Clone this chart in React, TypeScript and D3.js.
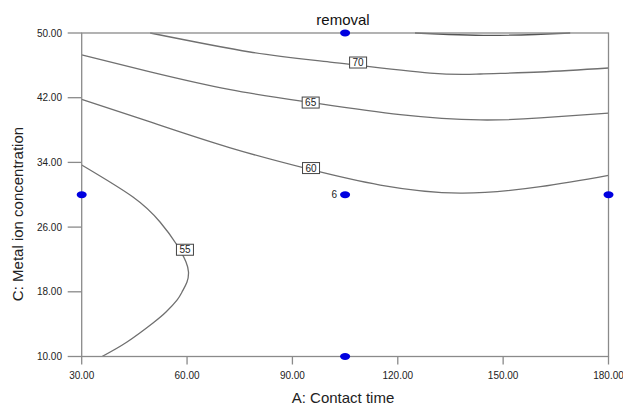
import React from 'react'
import * as d3 from 'd3'

// axis ticks
const xTicks = [30, 60, 90, 120, 150, 180]
const yTicks = [10, 18, 26, 34, 42, 50]

// contour lines: [A: contact time, C: metal ion conc.]
const contour55: [number, number][] = [
  [30, 33.68], [44.6, 29.72], [52.3, 26.63], [57.13, 23.79], [59.7, 21.68], [60.41, 20.45],
  [59.98, 19.21], [58.56, 17.98], [57.13, 16.97], [54.0, 15.5], [50.3, 14.14], [42.9, 11.79],
  [35.78, 10],
]
const contour60: [number, number][] = [
  [30, 41.8], [49.5, 39.0], [72.3, 35.8], [95.3, 33.1], [115, 31.2], [137.8, 30.2],
  [160.6, 31.0], [180, 32.4],
]
const contour65: [number, number][] = [
  [30, 47.3], [49.5, 45.2], [72.3, 43.0], [95.3, 41.4], [120.7, 39.9], [143.5, 39.25],
  [160.6, 39.5], [180, 40.1],
]
const contour70: [number, number][] = [
  [49.5, 50], [77.9, 47.65], [100.7, 46.4], [129.2, 45.05], [143.5, 44.93],
  [160.6, 45.18], [180, 45.67],
]
const contour75: [number, number][] = [
  [124.9, 50], [146.3, 49.7], [169.1, 50],
]

const contours = [
  { level: 55, points: contour55, label: [59.4, 23.2] },
  { level: 60, points: contour60, label: [95.3, 33.3] },
  { level: 65, points: contour65, label: [95.2, 41.4] },
  { level: 70, points: contour70, label: [108.7, 46.35] },
  { level: 75, points: contour75, label: null },
]

// design points
const designPoints: [number, number][] = [
  [30, 30], [105, 30], [180, 30], [105, 50], [105, 10],
]
const centerReplicates = '6'

export default function App() {
  const width = 623
  const height = 407
  const x = d3.scaleLinear().domain([30, 180]).range([81.7, 608.5])
  const y = d3.scaleLinear().domain([10, 50]).range([356.5, 33])

  const line = d3.line<[number, number]>()
    .x(d => x(d[0]))
    .y(d => y(d[1]))
    .curve(d3.curveNatural)

  const font = 'Arial, "Liberation Sans", sans-serif'
  const axisColor = '#8a8a8a'

  return (
    <div style={{ position: 'absolute', left: 0, top: 0 }}>
      <svg width={width} height={height} style={{ display: 'block', background: '#fff' }}>
        <defs>
          <clipPath id='plot'>
            <rect x={x(30)} y={y(50) - 1} width={x(180) - x(30)} height={y(10) - y(50) + 1} />
          </clipPath>
        </defs>
        {/* contour lines */}
        <g clipPath='url(#plot)'>
          {contours.map(c => (
            <path key={c.level} d={line(c.points) || ''} fill='none'
              stroke={c.level === 75 ? '#555' : '#707070'} strokeWidth={1.3} />
          ))}
        </g>
        {/* frame */}
        <rect x={x(30)} y={y(50)} width={x(180) - x(30)} height={y(10) - y(50)}
          fill='none' stroke={axisColor} strokeWidth={1.3} />
        {/* y axis */}
        {yTicks.map(t => (
          <g key={'y' + t}>
            <line x1={x(30) - 14} x2={x(30)} y1={y(t)} y2={y(t)} stroke={axisColor} strokeWidth={1.3} />
            <text x={62} y={y(t) + 3.5} textAnchor='end' fontSize={10} fontFamily={font} fill='#222'>
              {t.toFixed(2)}
            </text>
          </g>
        ))}
        {/* x axis */}
        {xTicks.map(t => (
          <g key={'x' + t}>
            <line x1={x(t)} x2={x(t)} y1={y(10)} y2={y(10) + 8} stroke={axisColor} strokeWidth={1.3} />
            <text x={x(t)} y={379} textAnchor='middle' fontSize={10} fontFamily={font} fill='#222'>
              {t.toFixed(2)}
            </text>
          </g>
        ))}
        {/* contour labels */}
        {contours.filter(c => c.label).map(c => {
          const lx = x(c.label![0])
          const ly = y(c.label![1])
          return (
            <g key={'l' + c.level}>
              <rect x={lx - 8.5} y={ly - 5.5} width={17} height={11} fill='#fff' stroke='#444' strokeWidth={1} />
              <text x={lx} y={ly + 3.5} textAnchor='middle' fontSize={10} fontFamily={font} fill='#222'>
                {c.level}
              </text>
            </g>
          )
        })}
        {/* design points */}
        {designPoints.map((p, i) => (
          <ellipse key={'p' + i} cx={x(p[0])} cy={y(p[1])} rx={5} ry={3.4} fill='#0000e0' />
        ))}
        <text x={x(105) - 8} y={y(30) + 3.5} textAnchor='end' fontSize={10} fontFamily={font} fill='#222'>
          {centerReplicates}
        </text>
        {/* titles */}
        <text x={343} y={25} textAnchor='middle' fontSize={15} fontFamily={font} fill='#111'>removal</text>
        <text x={343} y={403} textAnchor='middle' fontSize={15} fontFamily={font} fill='#222'>A: Contact time</text>
        <text transform={`translate(23,214) rotate(-90)`} textAnchor='middle'
          fontSize={15} fontFamily={font} fill='#222'>C: Metal ion concentration</text>
      </svg>
    </div>
  )
}
